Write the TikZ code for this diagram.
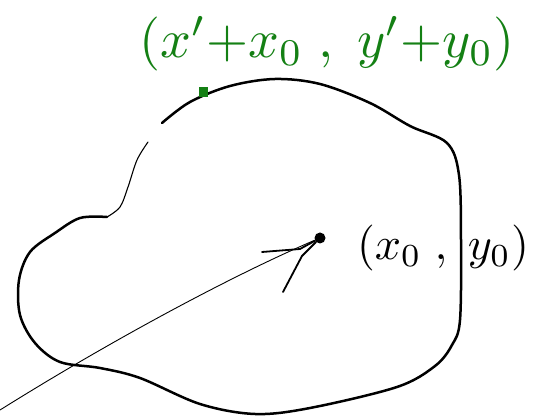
\documentclass[tikz,border=0pt]{standalone}
\definecolor{pen}{RGB}{20,128,20}
\begin{document}
\begin{tikzpicture}[x=1pt,y=-1pt]
\tikzset{
  outline/.style={line width=2.5pt, line cap=round, line join=round},
  faint/.style={line width=0.9pt, line cap=round},
  barb/.style={line width=1.8pt, line cap=round},
  lbl/.style={inner sep=0pt, transform shape}
}
\useasboundingbox (0,0) rectangle (536,419);
% thin start of the outline
\draw[line width=1.1pt, line cap=round] plot[smooth, tension=0.55] coordinates {(148,142) (137,160) (128,187) (120,207) (107,217)};
% thick outline
\draw[outline] plot[smooth, tension=0.55] coordinates {(107,217) (80,218) (55,233) (30,252) (19,280) (20,315) (35,343) (60,362) (100,368) (140,378) (200,404) (255,414) (310,408) (397,387) (435,366) (452,345) (460,320) (461,240) (459,175) (447,143) (410,126) (370,103) (320,84) (275,79) (230,86) (190,102) (162,123)};
% centre point
\node[circle, fill=black, minimum size=11pt, inner sep=0pt] (c) at (320,238) {};
\coordinate (rs) at (0,410);
\draw[faint] (rs) .. controls (120,335) and (240,272) .. (c);
\coordinate (b1) at (262,252);
\coordinate (b2) at (283,292);
\draw[barb] (b1) -- (300,249) -- (c);
\draw[barb] (b2) -- (302,256) -- (c);
% labels
\node[lbl, anchor=center, scale=4.6] (p0) at (443,248) {$(x_0\;,\;y_0)$};
\node[rectangle, fill=pen, draw=pen, line width=1pt, minimum width=8pt, minimum height=9pt, inner sep=0pt] (g) at (203,92) {};
\node[lbl, text=pen, anchor=center, scale=5.4] (p1) at (327,44) {$(x'{+}x_0\;,\;y'{+}y_0)$};
\end{tikzpicture}
\end{document}
